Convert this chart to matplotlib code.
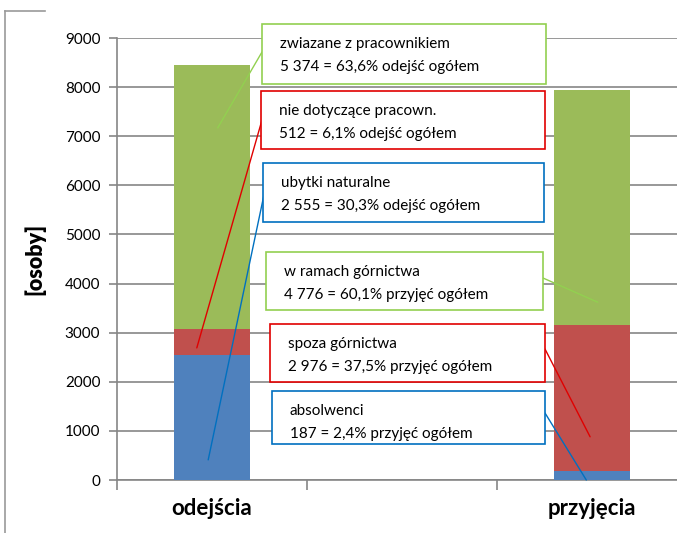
import matplotlib.pyplot as plt
from matplotlib.patches import Rectangle
from matplotlib.lines import Line2D

plt.rcParams['font.family'] = ['Lato', 'DejaVu Sans']

categories = ['odejścia', '', 'przyjęcia']
blue_vals = [2555, 0, 187]
red_vals = [512, 0, 2976]
green_vals = [5374, 0, 4776]

box_titles = ['zwiazane z pracownikiem', 'nie dotyczące pracown.', 'ubytki naturalne',
              'w ramach górnictwa', 'spoza górnictwa', 'absolwenci']
box_values = ['5 374 = 63,6% odejść ogółem', '512 = 6,1% odejść ogółem',
              '2 555 = 30,3% odejść ogółem', '4 776 = 60,1% przyjęć ogółem',
              '2 976 = 37,5% przyjęć ogółem', '187 = 2,4% przyjęć ogółem']

C_BLUE, C_RED, C_GREEN = '#4F81BD', '#C0504D', '#9BBB59'
E_GREEN, E_RED, E_BLUE = '#92D050', '#E00000', '#0070C0'

W, H = 677, 533
fig = plt.figure(figsize=(W / 100, H / 100), dpi=100)


def fx(px):
    return px / W


def fy(py):
    return (H - py) / H


# axes spans image pixels x 117..687, y 38..480
ax = fig.add_axes([fx(117), fy(480), (687 - 117) / W, (480 - 38) / H])
x = list(range(len(categories)))
bottom2 = [b + r for b, r in zip(blue_vals, red_vals)]
ax.bar(x, blue_vals, width=0.4, color=C_BLUE, zorder=3)
ax.bar(x, red_vals, width=0.4, bottom=blue_vals, color=C_RED, zorder=3)
ax.bar(x, green_vals, width=0.4, bottom=bottom2, color=C_GREEN, zorder=3)

ax.set_xlim(-0.5, 2.5)
ax.set_ylim(0, 9000)
ax.set_yticks(range(0, 9001, 1000))
ax.set_xticks([-0.5, 0.5, 1.5], minor=False)
ax.set_xticklabels([])
ax.tick_params(axis='x', which='major', length=7, width=1.2, color='#868686', direction='out')
ax.tick_params(axis='y', length=6, width=1.2, color='#868686', labelsize=11, pad=6)
ax.set_xticks([0, 2], minor=True)
ax.set_xticklabels(['odejścia', 'przyjęcia'], minor=True, fontsize=16, fontweight='bold')
ax.tick_params(axis='x', which='minor', length=0, pad=13)
ax.grid(axis='y', color='#868686', linewidth=1.2, zorder=0)
for s in ['top', 'right']:
    ax.spines[s].set_visible(False)
for s in ['left', 'bottom']:
    ax.spines[s].set_color('#868686')
    ax.spines[s].set_linewidth(1.2)
ax.set_ylabel('[osoby]', fontsize=15.5, fontweight='heavy', labelpad=14)

# outer frame fragments
fig.add_artist(Line2D([fx(5), fx(5)], [fy(11), fy(533)], color='#9A9A9A', lw=1.2))
fig.add_artist(Line2D([fx(5), fx(45)], [fy(11), fy(11)], color='#9A9A9A', lw=1.2))

# callout boxes: (left, top, right, bottom) in image pixels
boxes = [(262, 24, 546, 84), (261, 91, 545, 149), (263, 163, 544, 222),
         (266, 252, 543, 310), (270, 324, 545, 382), (272, 391, 545, 444)]
edge_cols = [E_GREEN, E_RED, E_BLUE, E_GREEN, E_RED, E_BLUE]
# leader: start on box (image px), end at data point
starts = [(262, 52), (262, 120), (265, 190), (543, 278), (545, 349), (545, 413)]
ends = [(0.03, 7170), (-0.08, 2690), (-0.02, 410), (2.03, 3620), (1.99, 880), (1.97, 0)]

for (l, t, r, b), ec, title, val, st, en in zip(boxes, edge_cols, box_titles,
                                                box_values, starts, ends):
    fig.add_artist(Rectangle((fx(l), fy(b)), fx(r - l), (b - t) / H,
                             transform=fig.transFigure, facecolor='white',
                             edgecolor=ec, lw=1.2, zorder=5))
    fig.text(fx(l + 18), fy(t + 20), title, fontsize=11, va='center', zorder=6)
    fig.text(fx(l + 18), fy(t + 43), val, fontsize=11, va='center', zorder=6)
    ax.annotate('', xy=en, xycoords='data', xytext=(st[0], H - st[1]),
                textcoords='figure pixels',
                arrowprops=dict(arrowstyle='-', color=ec, lw=1.0,
                                shrinkA=0, shrinkB=0), zorder=4)

fig.savefig('out.png', dpi=100)
